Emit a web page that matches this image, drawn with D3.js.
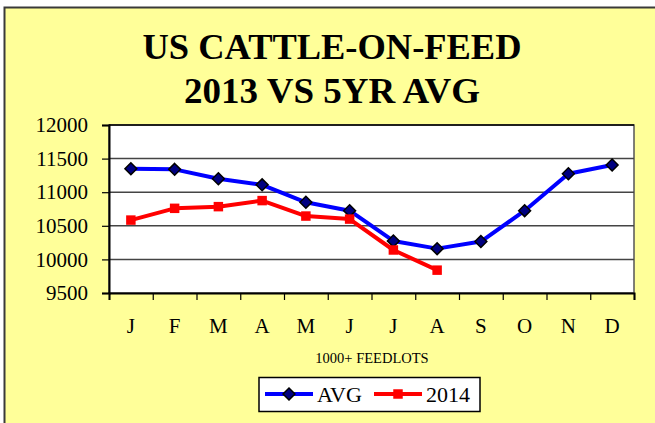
<!DOCTYPE html>
<html>
<head>
<meta charset="utf-8">
<script src="https://cdn.jsdelivr.net/npm/d3@7"></script>
<style>
  body { margin: 0; background: #fff; }
</style>
</head>
<body>
<svg id="drawspace" width="655" height="423"></svg>
<script>
// data
let months = ["J","F","M","A","M","J","J","A","S","O","N","D"];
let avgVals = [11350, 11340, 11200, 11110, 10850, 10725, 10275, 10160, 10265, 10725, 11275, 11405];
let vals2014 = [10585, 10760, 10785, 10875, 10645, 10600, 10140, 9840];
let yTicks = [9500, 10000, 10500, 11000, 11500, 12000];

let serif = "'Liberation Serif', 'Times New Roman', Times, 'DejaVu Serif', serif";
let svg = d3.select("#drawspace");

// chart background, border only on top and left visible
svg.append("rect").attr("x", 4.5).attr("y", 7.5).attr("width", 700).attr("height", 450)
  .attr("fill", "#FFFF99").attr("stroke", "#3a3a3a").attr("stroke-width", 2);

svg.append("text").attr("x", 332).attr("y", 59).attr("text-anchor", "middle")
  .style("font-family", serif).style("font-size", "36px").style("font-weight", "bold")
  .attr("textLength", 379).attr("lengthAdjust", "spacingAndGlyphs").text("US CATTLE-ON-FEED");
svg.append("text").attr("x", 332).attr("y", 103).attr("text-anchor", "middle")
  .style("font-family", serif).style("font-size", "36px").style("font-weight", "bold")
  .attr("textLength", 296).attr("lengthAdjust", "spacingAndGlyphs").text("2013 VS 5YR AVG");

let pl = 109, pr = 634, pt = 125, pb = 293;

let yscale = d3.scaleLinear().domain([9500, 12000]).range([pb, pt]);
let xband = d3.scaleBand().domain(d3.range(12)).range([pl, pr]);
let xedge = d3.scaleLinear().domain([0, 12]).range([pl, pr]);
let cx = i => xband(i) + xband.bandwidth() / 2;

// plot area
svg.append("rect").attr("x", pl).attr("y", pt).attr("width", pr - pl).attr("height", pb - pt)
  .attr("fill", "#fff").attr("stroke", "#555").attr("stroke-width", 1.5);
svg.append("line").attr("x1", pl).attr("x2", pr).attr("y1", pt).attr("y2", pt)
  .attr("stroke", "#000").attr("stroke-width", 1.5);

// gridlines
svg.append("g").selectAll("line").data(yTicks.slice(1, -1)).enter().append("line")
  .attr("x1", pl).attr("x2", pr)
  .attr("y1", d => yscale(d)).attr("y2", d => yscale(d))
  .attr("stroke", "#444").attr("stroke-width", 1.5);

// y axis
let yAxis = svg.append("g").attr("transform", "translate(" + pl + ",0)")
  .call(d3.axisLeft(yscale).tickValues(yTicks).tickSize(7).tickPadding(14).tickFormat(d3.format("d")));
yAxis.selectAll("line").attr("stroke", "#000").attr("stroke-width", 1.2);
yAxis.select(".domain").attr("stroke", "#000").attr("stroke-width", 2);
yAxis.selectAll("text").attr("fill", "#000").style("font-family", serif).style("font-size", "21px");

// x axis ticks at category edges
let xTickAxis = svg.append("g").attr("transform", "translate(0," + pb + ")")
  .call(d3.axisBottom(xedge).tickValues(d3.range(13)).tickSize(7).tickFormat(""));
xTickAxis.selectAll("line").attr("stroke", "#000").attr("stroke-width", 1.2);
xTickAxis.select(".domain").attr("stroke", "#000").attr("stroke-width", 2);

// month labels
let xAxis = svg.append("g").attr("transform", "translate(0," + pb + ")")
  .call(d3.axisBottom(xband).tickSize(0).tickPadding(25).tickFormat(i => months[i]));
xAxis.select(".domain").remove();
xAxis.selectAll("text").attr("fill", "#000").style("font-family", serif).style("font-size", "21px");

svg.append("text").attr("x", 372).attr("y", 363).attr("text-anchor", "middle")
  .style("font-family", serif).style("font-size", "14.5px")
  .text("1000+ FEEDLOTS");

// lines
let myLine = d3.line().x((d, i) => cx(i)).y(d => yscale(d));
svg.append("path").datum(avgVals).attr("d", myLine).attr("fill", "none")
  .attr("stroke", "#0000FF").attr("stroke-width", 4).attr("stroke-linejoin", "round");
svg.append("path").datum(vals2014).attr("d", myLine).attr("fill", "none")
  .attr("stroke", "#FF0000").attr("stroke-width", 4).attr("stroke-linejoin", "round");

let diamond = d3.symbol().type(d3.symbolDiamond2).size(90);
let square = d3.symbol().type(d3.symbolSquare).size(90);

svg.append("g").selectAll("path").data(avgVals).enter().append("path")
  .attr("d", diamond)
  .attr("transform", (d, i) => "translate(" + cx(i) + "," + yscale(d) + ")")
  .attr("fill", "#000080").attr("stroke", "#000").attr("stroke-width", 1.5);

svg.append("g").selectAll("path").data(vals2014).enter().append("path")
  .attr("d", square)
  .attr("transform", (d, i) => "translate(" + cx(i) + "," + yscale(d) + ")")
  .attr("fill", "#FF0000");

// legend
let lg = svg.append("g");
lg.append("rect").attr("x", 259).attr("y", 377.5).attr("width", 221).attr("height", 34)
  .attr("fill", "#fff").attr("stroke", "#000").attr("stroke-width", 1.5);
lg.append("line").attr("x1", 265).attr("x2", 313).attr("y1", 394).attr("y2", 394)
  .attr("stroke", "#0000FF").attr("stroke-width", 4);
lg.append("path").attr("d", diamond).attr("transform", "translate(289,394)")
  .attr("fill", "#000080").attr("stroke", "#000").attr("stroke-width", 1.5);
lg.append("text").attr("x", 317).attr("y", 402).style("font-family", serif).style("font-size", "22px").text("AVG");
lg.append("line").attr("x1", 374).attr("x2", 422).attr("y1", 394).attr("y2", 394)
  .attr("stroke", "#FF0000").attr("stroke-width", 4);
lg.append("path").attr("d", square).attr("transform", "translate(398,394)")
  .attr("fill", "#FF0000");
lg.append("text").attr("x", 426).attr("y", 402).style("font-family", serif).style("font-size", "22px").text("2014");
</script>
</body>
</html>
